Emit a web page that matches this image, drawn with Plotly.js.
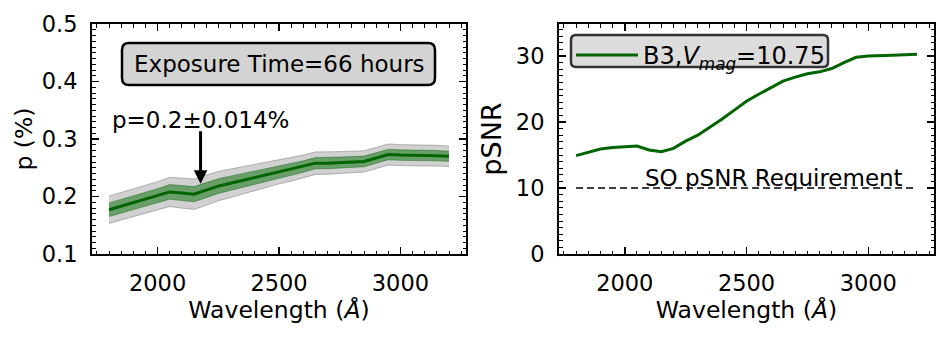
<!DOCTYPE html>
<html>
<head>
<meta charset="utf-8">
<script src="https://cdn.plot.ly/plotly-3.0.1.min.js"></script>
<style>html,body{margin:0;padding:0;background:#fff;}#chart{width:948px;height:338px;}</style>
</head>
<body>
<div id="chart"></div>
<script>
// ---- data ----
const wavelength = [1800,1850,1900,1950,2000,2050,2100,2150,2200,2250,2300,2350,2400,2450,2500,
                    2550,2600,2650,2700,2750,2800,2850,2900,2950,3000,3050,3100,3150,3200];
const polarization = [0.177,0.183,0.189,0.195,0.201,0.208,0.206,0.204,0.211,0.218,0.223,0.228,0.233,0.238,0.243,
                      0.247,0.252,0.258,0.258,0.259,0.260,0.261,0.267,0.273,0.272,0.272,0.271,0.271,0.270];
const polError = [0.0119,0.0119,0.0119,0.0121,0.0124,0.0127,0.0131,0.0132,0.0132,0.0127,0.0124,0.0119,0.0114,0.0109,0.0105,
                  0.0102,0.0100,0.0098,0.0096,0.0095,0.0094,0.0093,0.0092,0.0092,0.0091,0.0090,0.0090,0.0090,0.0089];
const pSNR = [14.9,15.35,15.9,16.15,16.26,16.36,15.76,15.5,16.0,17.1,18.0,19.2,20.45,21.8,23.15,
              24.2,25.2,26.2,26.8,27.3,27.6,28.1,29.0,29.8,30.0,30.1,30.13,30.18,30.25];
const requirementX = [1800, 3200];
const requirementY = [10, 10];
const xTicks = [2000, 2500, 3000];
const pTicks = [0.1, 0.2, 0.3, 0.4, 0.5];
const snrTicks = [0, 10, 20, 30];
const legendLabel = 'B3,<i>V</i><sub><i>mag</i></sub>=10.75';
const exposureText = 'Exposure Time=66 hours';
const pText = 'p=0.2±0.014%';
const reqText = 'SO pSNR Requirement';

// ---- derived band edges ----
const lo2 = polarization.map((v,i)=>v-2*polError[i]);
const hi2 = polarization.map((v,i)=>v+2*polError[i]);
const lo1 = polarization.map((v,i)=>v-polError[i]);
const hi1 = polarization.map((v,i)=>v+polError[i]);

const FONT = 'DejaVu Sans';
const W = 948, H = 338;
const px = x => x / W;
const py = y => 1 - y / H;
function roundRect(x0, y0, x1, y1, r) {
  const rx = r / W, ry = r / H;
  const X0 = px(x0), X1 = px(x1), Y0 = py(y0), Y1 = py(y1);
  return `M${X0+rx},${Y0} H${X1-rx} Q${X1},${Y0} ${X1},${Y0-ry} V${Y1+ry} Q${X1},${Y1} ${X1-rx},${Y1} ` +
         `H${X0+rx} Q${X0},${Y1} ${X0},${Y1+ry} V${Y0-ry} Q${X0},${Y0} ${X0+rx},${Y0} Z`;
}

const traces = [
  {x: wavelength, y: lo2, xaxis:'x', yaxis:'y', mode:'lines', line:{width:0.8, color:'rgba(110,110,110,0.6)'}, showlegend:false, hoverinfo:'skip'},
  {x: wavelength, y: hi2, xaxis:'x', yaxis:'y', mode:'lines', line:{width:0.8, color:'rgba(110,110,110,0.6)'}, fill:'tonexty', fillcolor:'rgba(128,128,128,0.36)', showlegend:false, hoverinfo:'skip'},
  {x: wavelength, y: lo1, xaxis:'x', yaxis:'y', mode:'lines', line:{width:0.8, color:'rgba(0,90,0,0.5)'}, showlegend:false, hoverinfo:'skip'},
  {x: wavelength, y: hi1, xaxis:'x', yaxis:'y', mode:'lines', line:{width:0.8, color:'rgba(0,90,0,0.5)'}, fill:'tonexty', fillcolor:'rgba(0,110,0,0.5)', showlegend:false, hoverinfo:'skip'},
  {x: wavelength, y: polarization, xaxis:'x', yaxis:'y', mode:'lines', line:{width:3, color:'#006400'}, showlegend:false},
  {x: wavelength, y: pSNR, xaxis:'x2', yaxis:'y2', mode:'lines', line:{width:3, color:'#006400'}, name: legendLabel, showlegend:true},
  {x: requirementX, y: requirementY, xaxis:'x2', yaxis:'y2', mode:'lines', line:{width:1.6, color:'black', dash:'7px,4px'}, showlegend:false}
];

function xAxis(domain, anchor) {
  return {
    domain: domain, anchor: anchor, range: [1730, 3270],
    tickmode: 'array', tickvals: xTicks, ticktext: xTicks.map(String),
    ticks: 'inside', ticklen: 7, tickwidth: 1.5, tickcolor: 'black',
    minor: {dtick: 50, ticks: 'inside', ticklen: 3.5, tickwidth: 1, tickcolor: 'black'},
    showline: true, linewidth: 2, linecolor: 'black', mirror: 'allticks',
    showgrid: false, zeroline: false,
    tickfont: {family: FONT, size: 22.5, color: 'black'},
    ticklabelstandoff: 8,
    title: {text: 'Wavelength (<i>Å</i>)', font: {family: FONT, size: 23.5, color: 'black'}, standoff: 6}
  };
}
function yAxis(domain, anchor, range, ticks, minor, fmt, title, size, standoff) {
  return {
    domain: domain, anchor: anchor, range: range,
    tickmode: 'array', tickvals: ticks, ticktext: ticks.map(fmt),
    ticks: 'inside', ticklen: 7, tickwidth: 1.5, tickcolor: 'black',
    minor: {dtick: minor, ticks: 'inside', ticklen: 3.5, tickwidth: 1, tickcolor: 'black'},
    showline: true, linewidth: 2, linecolor: 'black', mirror: 'allticks',
    showgrid: false, zeroline: false,
    tickfont: {family: FONT, size: 22.5, color: 'black'},
    ticklabelstandoff: 8,
    title: {text: title, font: {family: FONT, size: size, color: 'black'}, standoff: standoff}
  };
}

const yDom = [py(254), py(24)];
const layout = {
  width: W, height: H,
  margin: {l:0, r:0, t:0, b:0},
  paper_bgcolor: 'white', plot_bgcolor: 'white',
  font: {family: FONT, color: 'black'},
  xaxis: xAxis([px(92), px(466)], 'y'),
  yaxis: yAxis(yDom, 'x', [0.1, 0.5], pTicks, 0.01, v => v.toFixed(1), 'p (%)', 23.5, 2),
  xaxis2: xAxis([px(559), px(934)], 'y2'),
  yaxis2: yAxis(yDom, 'x2', [0, 34.85], snrTicks, 1, v => String(v), 'pSNR', 27, 6),
  showlegend: true,
  legend: {
    x: px(571), y: py(33), xanchor: 'left', yanchor: 'top',
    bgcolor: 'rgba(0,0,0,0)', borderwidth: 0,
    font: {family: FONT, size: 24, color: 'black'},
    itemwidth: 62
  },
  shapes: [
    {type:'path', xref:'paper', yref:'paper', path: roundRect(122, 43, 435, 85, 7),
     fillcolor:'#d3d3d3', line:{color:'black', width:2.5}, layer:'above'},
    {type:'path', xref:'paper', yref:'paper', path: roundRect(571, 35, 828, 67, 5),
     fillcolor:'#dcdcdc', line:{color:'#333333', width:2.5}, layer:'above'}
  ],
  annotations: [
    {xref:'paper', yref:'paper', x: px(279), y: py(64), text: exposureText, showarrow:false,
     xanchor:'center', yanchor:'middle', font:{family:FONT, size:23, color:'black'}},
    {xref:'x', yref:'y', x: 2178, y: 0.333, text: pText, showarrow:false,
     xanchor:'center', yanchor:'middle', font:{family:FONT, size:23, color:'black'}},
    {xref:'x', yref:'y', x: 2177, y: 0.222, ax: 2177, ay: 0.316, axref:'x', ayref:'y', text:'',
     showarrow:true, arrowhead:2, arrowsize:0.9, arrowwidth:3, arrowcolor:'black', standoff:0},
    {xref:'x2', yref:'y2', x: 2613, y: 11.5, text: reqText, showarrow:false,
     xanchor:'center', yanchor:'middle', font:{family:FONT, size:23, color:'black'}}
  ]
};

Plotly.newPlot('chart', traces, layout, {staticPlot: true, displayModeBar: false});
</script>
</body>
</html>
